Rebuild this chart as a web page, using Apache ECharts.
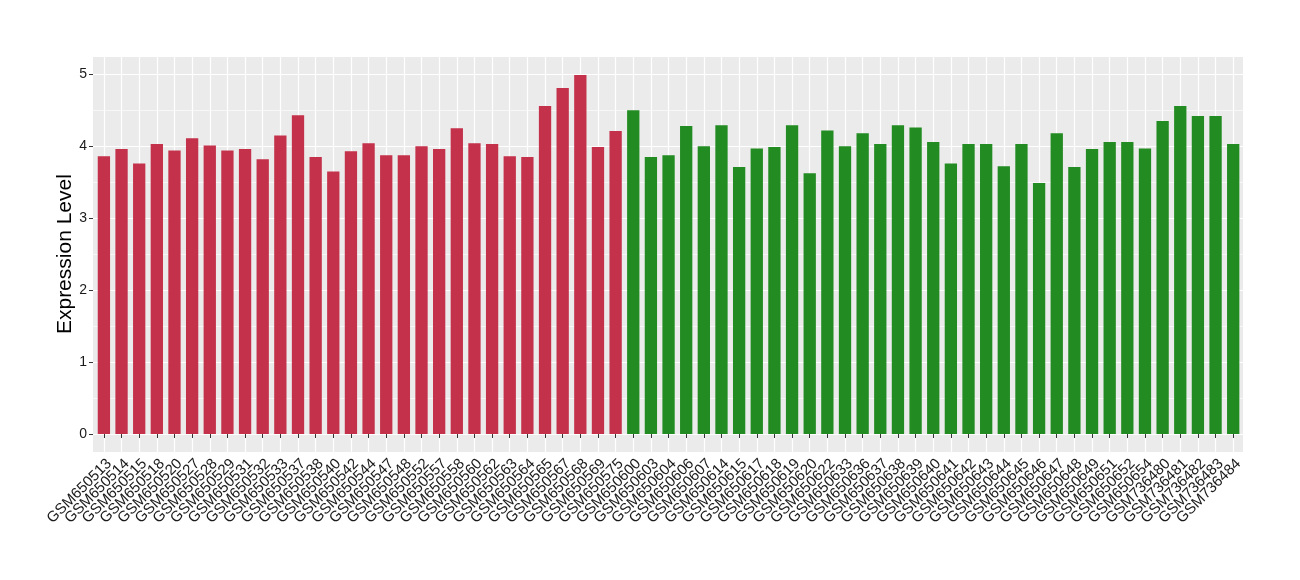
<!DOCTYPE html>
<html>
<head>
<meta charset="utf-8">
<script src="https://cdn.jsdelivr.net/npm/echarts@6/dist/echarts.min.js"></script>
<style>
html,body{margin:0;padding:0;background:#fff;}
#chart{width:1300px;height:580px;}
</style>
</head>
<body>
<div id="chart"></div>
<script>
const redSamples = ["GSM650513","GSM650514","GSM650515","GSM650518","GSM650520","GSM650527","GSM650528","GSM650529","GSM650531","GSM650532","GSM650533","GSM650537","GSM650538","GSM650540","GSM650542","GSM650544","GSM650547","GSM650548","GSM650552","GSM650557","GSM650558","GSM650560","GSM650562","GSM650563","GSM650564","GSM650565","GSM650567","GSM650568","GSM650569","GSM650575"];
const redValues = [3.86,3.96,3.76,4.03,3.94,4.11,4.01,3.94,3.96,3.82,4.15,4.43,3.85,3.65,3.93,4.04,3.875,3.875,4.00,3.96,4.25,4.04,4.03,3.86,3.85,4.56,4.81,4.99,3.99,4.21];
const greenSamples = ["GSM650600","GSM650603","GSM650604","GSM650606","GSM650607","GSM650614","GSM650615","GSM650617","GSM650618","GSM650619","GSM650620","GSM650622","GSM650633","GSM650636","GSM650637","GSM650638","GSM650639","GSM650640","GSM650641","GSM650642","GSM650643","GSM650644","GSM650645","GSM650646","GSM650647","GSM650648","GSM650649","GSM650651","GSM650652","GSM650654","GSM736480","GSM736481","GSM736482","GSM736483","GSM736484"];
const greenValues = [4.50,3.85,3.875,4.28,4.00,4.29,3.71,3.97,3.99,4.29,3.625,4.22,4.00,4.18,4.03,4.29,4.26,4.06,3.76,4.03,4.03,3.72,4.03,3.49,4.18,3.71,3.96,4.06,4.06,3.97,4.35,4.56,4.42,4.42,4.03];
const yTicks = [0,1,2,3,4,5];
const redColor = '#C4314B';
const greenColor = '#228B22';

const categories = redSamples.concat(greenSamples);
const barData = redValues.map(v => ({value: v, itemStyle: {color: redColor}}))
  .concat(greenValues.map(v => ({value: v, itemStyle: {color: greenColor}})));

const font = 'Liberation Sans, Arial, Helvetica, sans-serif';
const chart = echarts.init(document.getElementById('chart'), null, {renderer: 'canvas'});
chart.setOption({
  animation: false,
  backgroundColor: '#ffffff',
  textStyle: {fontFamily: font},
  grid: [
    {left: 93, top: 57, width: 1150, height: 395, show: true, backgroundColor: '#EBEBEB', borderWidth: 0},
    {left: 93, top: 74.2, width: 1150, height: 359.8},
    {left: 103.9, top: 57, width: 1129.3, height: 395}
  ],
  xAxis: [
    {gridIndex: 0, type: 'value', show: false},
    {gridIndex: 1, type: 'value', show: false},
    {gridIndex: 2, type: 'category', data: categories, boundaryGap: false,
     axisLine: {show: false},
     axisTick: {show: true, length: 4, lineStyle: {color: '#333333', width: 1}},
     splitLine: {show: true, lineStyle: {color: '#ffffff', width: 1.2}},
     axisLabel: {interval: 0, rotate: 45, fontSize: 15, color: '#1a1a1a', margin: 4, verticalAlign: 'top', fontFamily: font}}
  ],
  yAxis: [
    {gridIndex: 0, type: 'value', show: false},
    {gridIndex: 1, type: 'value', min: yTicks[0], max: yTicks[yTicks.length - 1], interval: 1,
     name: 'Expression Level', nameLocation: 'middle', nameRotate: 90, nameGap: 17, nameMoveOverlap: false,
     nameTextStyle: {fontSize: 21, color: '#000000', fontFamily: font},
     axisLine: {show: false},
     axisTick: {show: true, length: 4, lineStyle: {color: '#333333', width: 1}},
     axisLabel: {fontSize: 14, color: '#1a1a1a', margin: 6, fontFamily: font},
     splitLine: {show: true, lineStyle: {color: '#ffffff', width: 1.2}},
     minorTick: {show: false, splitNumber: 2},
     minorSplitLine: {show: true, lineStyle: {color: '#ffffff', width: 0.6}}},
    {gridIndex: 2, type: 'value', min: -0.25, max: 5.24, show: false, splitLine: {show: false}}
  ],
  series: [
    {type: 'bar', xAxisIndex: 2, yAxisIndex: 2, data: barData, barWidth: 12.3}
  ]
});
</script>
</body>
</html>
